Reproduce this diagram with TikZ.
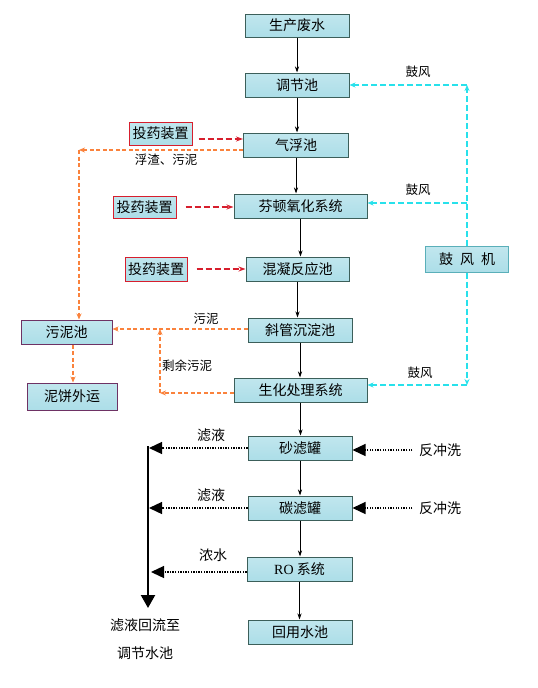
\documentclass[tikz,border=0pt]{standalone}
\usepackage{fontspec}
\setmainfont{Noto Sans CJK SC}
\newfontfamily\serifrm{Liberation Serif}
\usepackage{tikz}
\usetikzlibrary{arrows.meta}
\usepackage{xcolor}
\definecolor{PoolFill}{RGB}{172,222,232}
\definecolor{PoolEdge}{RGB}{60,95,90}
\definecolor{DoseRed}{RGB}{215,30,45}
\definecolor{MudEdge}{RGB}{110,50,100}
\definecolor{BlowEdge}{RGB}{90,175,185}
\definecolor{SludgeOrange}{RGB}{250,130,60}
\definecolor{AirCyan}{RGB}{40,225,235}

\tikzset{
  pool/.style={draw=PoolEdge,line width=1pt,top color=PoolFill!75!white,bottom color=PoolFill,
               minimum height=24pt,inner sep=0pt,font=\fontsize{14}{15}\selectfont},
  dosebox/.style={pool,draw=DoseRed},
  mudbox/.style={pool,draw=MudEdge},
  flow/.style={-{Stealth[length=6pt,width=4pt]},line width=0.8pt},
  dose/.style={-{Stealth[length=7pt,width=5pt]},DoseRed,dash pattern=on 6pt off 3pt,line width=1.3pt},
  sludge/.style={-{Stealth[length=6pt,width=5pt]},SludgeOrange,dash pattern=on 4pt off 2.5pt,line width=1.1pt},
  air/.style={-{Stealth[length=6pt,width=5pt]},AirCyan,dash pattern=on 6pt off 3pt,line width=1.3pt},
  filt/.style={-{Triangle[length=13pt,width=12pt]},dash pattern=on 1.3pt off 1.3pt,line width=1.3pt},
  lbl/.style={font=\fontsize{12.5}{13}\selectfont},
  biglbl/.style={font=\fontsize{14}{15}\selectfont}
}

\begin{document}
\begin{tikzpicture}[x=1pt,y=-1pt]
  \useasboundingbox (0,0) rectangle (538,688);
  % Main line
  \node[pool,minimum width=104pt,minimum height=23pt] (waste) at (297,25.5) {生产废水};
  \node[pool,minimum width=104pt] (tiao) at (297,85) {调节池};
  \node[pool,minimum width=105pt] (qifu) at (296,145) {气浮池};
  \node[pool,minimum width=133pt] (fenton) at (300.5,206) {芬顿氧化系统};
  \node[pool,minimum width=103pt] (hunning) at (297.5,269) {混凝反应池};
  \node[pool,minimum width=104pt] (xieguan) at (300,330) {斜管沉淀池};
  \node[pool,minimum width=133pt] (shenghua) at (300.5,390) {生化处理系统};
  \node[pool,minimum width=104pt] (sha) at (300,448) {砂滤罐};
  \node[pool,minimum width=104pt] (tan) at (300,508) {碳滤罐};
  \node[pool,minimum width=105pt] (ro) at (299.5,569) {{\serifrm RO} 系统};
  \node[pool,minimum width=104pt] (huiyong) at (300,632) {回用水池};
  \foreach \a/\b in {waste/tiao,tiao/qifu,qifu/fenton,fenton/hunning,hunning/xieguan,
                     xieguan/shenghua,shenghua/sha,sha/tan,tan/ro,ro/huiyong}
    \draw[flow] (\a.south) -- (\a.south |- \b.north);

  % Dosing
  \node[dosebox,minimum width=63pt,minimum height=23pt] (dose1) at (160.5,133.5) {投药装置};
  \node[dosebox,minimum width=63pt,minimum height=22pt] (dose2) at (144.5,207) {投药装置};
  \node[dosebox,minimum width=62pt] (dose3) at (156,269) {投药装置};
  \draw[dose,shorten <=6pt] ([yshift=-5.5pt]dose1.east) -- ([yshift=-5.5pt]dose1.east -| qifu.west);
  \draw[dose,shorten <=9pt] (dose2.east) -- (dose2.east -| fenton.west);
  \draw[dose,shorten <=9pt] (dose3.east) -- (dose3.east -| hunning.west);

  % Sludge
  \node[mudbox,minimum width=91pt] (wuni) at (66.5,332) {污泥池};
  \node[mudbox,minimum width=90pt,minimum height=27pt] (nibing) at (72,396.5) {泥饼外运};
  \coordinate (fcorner) at (79,150);
  \draw[sludge] ([yshift=-5pt]qifu.west) -- (fcorner);
  \draw[sludge] (fcorner) -- (fcorner |- wuni.north);
  \node[lbl] (fzlbl) at (166,160) {浮渣、污泥};
  \draw[sludge] ([yshift=1pt]xieguan.west) -- ([yshift=1pt]xieguan.west -| wuni.east);
  \node[lbl] (wnlbl) at (206,319) {污泥};
  \coordinate (rcorner) at (160,393);
  \draw[sludge] ([yshift=-3pt]shenghua.west) -- (rcorner);
  \draw[sludge] (rcorner) -- ([yshift=1pt]rcorner |- xieguan.west);
  \node[lbl] (sylbl) at (187,366) {剩余污泥};
  \draw[sludge] ([xshift=6.5pt]wuni.south) -- ([xshift=6.5pt]wuni.south |- nibing.north);

  % Blower
  \node[pool,draw=BlowEdge,minimum width=83pt,minimum height=26pt] (blower) at (467,259)
    {鼓\hspace{0.5em}风\hspace{0.5em}机};
  \coordinate (atop) at (blower.north |- tiao.east);
  \coordinate (abot) at ([yshift=5pt]blower.south |- shenghua.east);
  \draw[air] (blower.north) -- (atop);
  \draw[air] (atop) -- (tiao.east);
  \draw[air] ([yshift=3pt]blower.north |- fenton.east) -- ([yshift=3pt]fenton.east);
  \draw[air] (blower.south) -- (abot);
  \draw[air] (abot) -- ([yshift=5pt]shenghua.east);
  \node[lbl] (gf1) at (418,72) {鼓风};
  \node[lbl] (gf2) at (418,190) {鼓风};
  \node[lbl] (gf3) at (420,373) {鼓风};

  % Filtrate return
  \coordinate (rtop) at (148,446);
  \coordinate (rbot) at (148,608);
  \draw[line width=2.2pt,-{Triangle[length=13pt,width=14pt]}] (rtop) -- (rbot);
  \draw[filt] (sha.west) -- ([xshift=1pt]sha.west -| rtop);
  \draw[filt] (tan.west) -- ([xshift=1pt]tan.west -| rtop);
  \draw[filt] ([yshift=-3pt]ro.west) -- ([xshift=3pt,yshift=-3pt]ro.west -| rtop);
  \node[biglbl] (ly1) at (211,435) {滤液};
  \node[biglbl] (ly2) at (211,495) {滤液};
  \node[biglbl] (ns) at (213,555) {浓水};
  \node[biglbl] (bw1) at (440,450) {反冲洗};
  \node[biglbl] (bw2) at (440,508) {反冲洗};
  \draw[filt,shorten <=3pt] (bw1.west) -- (bw1.west -| sha.east);
  \draw[filt,shorten <=3pt] (bw2.west) -- (bw2.west -| tan.east);
  \node[biglbl] (ret1) at (145,625) {滤液回流至};
  \node[biglbl] (ret2) at (145,653) {调节水池};
\end{tikzpicture}
\end{document}
